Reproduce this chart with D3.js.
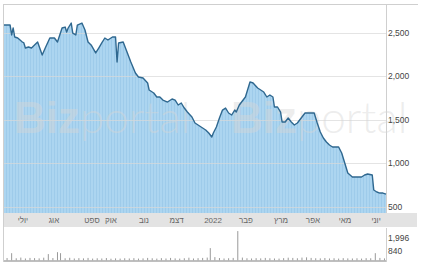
<!DOCTYPE html>
<html>
<head>
<meta charset="utf-8">
<script src="https://cdn.jsdelivr.net/npm/d3@7"></script>
<style>
	body { margin: 0; background: #fff; }
	svg { display: block; font-family: "Liberation Sans", Arial, sans-serif; }
</style>
</head>
<body>
<div id="chart"></div>
<script>
/* global d3 */

// trading day index (0..250) and closing price
var priceDays = [0, 4, 5, 6, 7, 9, 12, 13, 14, 16, 18, 20, 22, 25, 27, 30, 33, 35, 38, 40, 41, 42, 44, 45, 47, 48, 51, 53, 55, 57,
	60, 62, 64, 66, 68, 71, 73, 74, 75, 78, 80, 82, 83, 86, 88, 91, 94, 95, 97, 98, 100, 102, 104, 107, 110, 112, 114, 116, 118, 120,
	123, 125, 127, 130, 132, 134, 136, 137, 139, 141, 143, 145, 147, 149, 151, 152, 154, 158, 161, 163, 166, 168, 170, 172, 174, 176, 177, 179,
	181, 182, 184, 186, 188, 190, 192, 195, 197, 200, 203, 205, 207, 209, 211, 213, 215, 219, 221, 223, 225, 228, 231, 234, 236, 238,
	241, 242, 244, 246, 248, 250];
var priceValues = [2588, 2588, 2474, 2554, 2451, 2439, 2393, 2382, 2324, 2336, 2324, 2359, 2393, 2244, 2324, 2439, 2439, 2393, 2554, 2565, 2508, 2554, 2611, 2496, 2474, 2588, 2611, 2531, 2393, 2359,
	2267, 2324, 2382, 2439, 2416, 2451, 2451, 2163, 2382, 2393, 2301, 2209, 2163, 2037, 1991, 1979, 1922, 1841, 1818, 1807, 1761, 1761, 1726, 1703, 1738, 1726, 1669, 1692, 1634, 1588,
	1531, 1462, 1439, 1405, 1382, 1347, 1301, 1347, 1416, 1519, 1611, 1634, 1577, 1554, 1611, 1588, 1669, 1761, 1934, 1922, 1864, 1841, 1818, 1761, 1784, 1761, 1646, 1646,
	1588, 1474, 1474, 1519, 1474, 1439, 1462, 1531, 1577, 1577, 1577, 1462, 1359, 1290, 1244, 1209, 1186, 1186, 1117, 1002, 887, 841, 841, 841, 864, 876,
	864, 692, 669, 657, 657, 645];

// daily volume (sampled)
var volumeDays = [2, 5, 8, 11, 14, 17, 20, 23, 26, 29, 32, 35, 37, 40, 43, 46, 49, 52, 55, 58, 61, 64, 67, 70, 73, 76, 79, 82, 85, 88,
	91, 94, 97, 100, 103, 106, 109, 112, 115, 118, 121, 124, 127, 130, 133, 135, 138, 141, 144, 147, 150, 153, 156, 159, 162, 165, 168, 171, 174, 177,
	180, 183, 186, 189, 192, 195, 198, 201, 204, 207, 210, 213, 216, 219, 222, 225, 228, 231, 234, 237, 240, 243, 246, 249];
var volumeValues = [220, 650, 200, 260, 180, 230, 210, 190, 250, 570, 220, 740, 650, 200, 240, 180, 210, 190, 230, 170, 200, 180, 220, 160, 190, 170, 200, 180, 210, 170,
	190, 230, 200, 170, 210, 180, 230, 190, 170, 200, 250, 180, 210, 230, 260, 1100, 300, 220, 180, 200, 230, 2610, 260, 200, 180, 210, 190, 230, 200, 180,
	170, 210, 250, 230, 200, 260, 280, 230, 200, 190, 220, 180, 200, 170, 210, 190, 180, 200, 170, 210, 200, 650, 230, 190];

var yTicks = [500, 1000, 1500, 2000, 2500];
var volumeTicks = [840, 1996];

var monthLabels = ['יולי', 'אוג', 'ספט', 'אוק', 'נוב', 'דצמ', '2022', 'פבר', 'מרץ', 'אפר', 'מאי', 'יוני'];
var monthDays = [12.4, 32.7, 57.6, 70, 91.6, 113, 136.8, 158.4, 181.3, 202.2, 223.2, 243.5];

var buildChart = function (el) {
	'use strict';

	function PriceChart (el) {
		this.price = priceDays.map(function (d, i) { return {day: d, val: priceValues[i]}; });
		this.volume = volumeDays.map(function (d, i) { return {day: d, val: volumeValues[i]}; });
		this.scales = this.setScales();

		this.svg = this.buildSVG(el);
		this.addDefs();
		this.addFrame();
		this.addArea();
		this.addGrid();
		this.addWatermark();
		this.addLine();
		this.addXAxis();
		this.addYAxis();
		this.addVolume();
	}

	PriceChart.prototype = {
		width: 426,
		height: 269,
		plot: {left: 4, right: 386, top: 5, bottom: 213},
		band: {top: 213, bottom: 227, right: 417},
		vol: {top: 228, bottom: 261},

		setScales: function () {
			return {
				x: d3.scaleLinear().domain([0, 250]).range([this.plot.left, this.plot.right]),
				y: d3.scaleLinear().domain([500, 2500]).range([206.7, 32.7]),
				v: d3.scaleLinear().domain([0, 1996]).range([260.5, 238])
			};
		},

		buildSVG: function (el) {
			return d3.select(el).append('svg')
				.attr('width', this.width)
				.attr('height', this.height);
		},

		addDefs: function () {
			var pat = this.svg.append('defs').append('pattern')
				.attr('id', 'stripes')
				.attr('patternUnits', 'userSpaceOnUse')
				.attr('width', 3)
				.attr('height', 10);
			pat.append('rect').attr('width', 3).attr('height', 10).attr('fill', '#acd5f0');
			pat.append('rect').attr('width', 1).attr('height', 10).attr('fill', '#9ecbea');
		},

		addFrame: function () {
			var g = this.svg.append('g').attr('class', 'frame');
			g.append('line')
				.attr('x1', 3).attr('x2', 418).attr('y1', 4.5).attr('y2', 4.5)
				.attr('stroke', '#cfcfcf');
			g.append('line')
				.attr('x1', 3.5).attr('x2', 3.5).attr('y1', 4).attr('y2', 262)
				.attr('stroke', '#cfcfcf');
		},

		addArea: function () {
			var that = this;
			var area = d3.area()
				.x(function (d) { return that.scales.x(d.day); })
				.y0(this.plot.bottom)
				.y1(function (d) { return that.scales.y(d.val); });
			this.svg.append('path')
				.datum(this.price)
				.attr('d', area)
				.attr('fill', 'url(#stripes)');
		},

		addGrid: function () {
			var that = this;
			this.svg.append('g')
				.attr('class', 'grid')
				.selectAll('line')
				.data(yTicks)
				.enter().append('line')
					.attr('x1', this.plot.left)
					.attr('x2', this.plot.right)
					.attr('y1', function (d) { return Math.round(that.scales.y(d)) + 0.5; })
					.attr('y2', function (d) { return Math.round(that.scales.y(d)) + 0.5; })
					.attr('stroke', '#d8d8d8')
					.attr('stroke-opacity', 0.7);
			this.svg.append('line')
				.attr('x1', this.plot.right + 0.5).attr('x2', this.plot.right + 0.5)
				.attr('y1', this.plot.top - 1).attr('y2', this.plot.bottom)
				.attr('stroke', '#cfcfcf');
		},

		addWatermark: function () {
			var g = this.svg.append('g')
				.attr('class', 'watermark')
				.attr('fill', '#d6d6d6')
				.attr('fill-opacity', 0.45)
				.style('font-size', '44px');
			[14, 231].forEach(function (x) {
				var t = g.append('text').attr('x', x).attr('y', 133);
				t.append('tspan').style('font-weight', 'bold').text('Biz');
				t.append('tspan').style('font-weight', '300').style('font-family', 'Lato, sans-serif').text('portal');
			});
		},

		addLine: function () {
			var that = this;
			var line = d3.line()
				.x(function (d) { return that.scales.x(d.day); })
				.y(function (d) { return that.scales.y(d.val); });
			this.svg.append('path')
				.datum(this.price)
				.attr('d', line)
				.attr('fill', 'none')
				.attr('stroke', '#2f6890')
				.attr('stroke-width', 1.4)
				.attr('stroke-linejoin', 'round');
		},

		addXAxis: function () {
			var that = this;
			var g = this.svg.append('g').attr('class', 'axis axis--x');
			g.append('rect')
				.attr('x', this.plot.left)
				.attr('y', this.band.top)
				.attr('width', this.band.right - this.plot.left)
				.attr('height', this.band.bottom - this.band.top)
				.attr('fill', '#e3e3e3');
			g.selectAll('text')
				.data(monthDays)
				.enter().append('text')
					.attr('x', function (d) { return that.scales.x(d); })
					.attr('y', this.band.top + 10)
					.attr('text-anchor', 'middle')
					.attr('fill', '#666')
					.style('font-size', '8px')
					.text(function (d, i) { return monthLabels[i]; });
		},

		addYAxis: function () {
			var that = this;
			this.svg.append('g')
				.attr('class', 'axis axis--y')
				.selectAll('text')
				.data(yTicks)
				.enter().append('text')
					.attr('x', this.plot.right + 2)
					.attr('y', function (d) { return that.scales.y(d) + 3; })
					.attr('fill', '#444')
					.style('font-size', '8.5px')
					.text(function (d) { return d3.format(',')(d); });
		},

		addVolume: function () {
			var that = this;
			var g = this.svg.append('g').attr('class', 'volume');
			g.selectAll('rect')
				.data(this.volume)
				.enter().append('rect')
					.attr('x', function (d) { return that.scales.x(d.day) - 0.5; })
					.attr('width', 1)
					.attr('y', function (d) { return that.scales.v(d.val); })
					.attr('height', function (d) { return that.scales.v(0) - that.scales.v(d.val); })
					.attr('fill', '#9a9a9a');
			g.append('line')
				.attr('x1', this.plot.left).attr('x2', this.plot.right)
				.attr('y1', this.vol.bottom).attr('y2', this.vol.bottom)
				.attr('stroke', '#aaa')
				.attr('stroke-width', 1.5);
			g.append('line')
				.attr('x1', this.plot.right + 0.5).attr('x2', this.plot.right + 0.5)
				.attr('y1', this.vol.top).attr('y2', this.vol.bottom + 1)
				.attr('stroke', '#cfcfcf');
			g.selectAll('.vlabel')
				.data(volumeTicks)
				.enter().append('text')
					.attr('class', 'vlabel')
					.attr('x', this.plot.right + 2)
					.attr('y', function (d) { return that.scales.v(d) + 3; })
					.attr('fill', '#444')
					.style('font-size', '8.5px')
					.text(function (d) { return d3.format(',')(d); });
		}
	};

	return new PriceChart(el);
};

buildChart('#chart');
</script>
</body>
</html>
